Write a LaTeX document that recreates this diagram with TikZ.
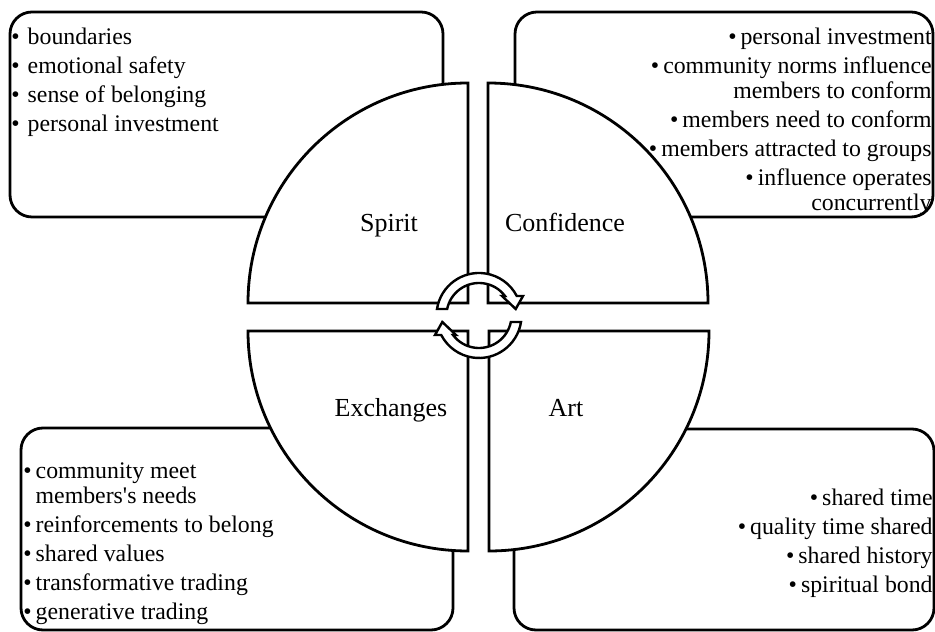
\documentclass[tikz,border=0pt]{standalone}
\usepackage{fontspec}
\setmainfont{Liberation Serif}
\tikzset{%
  panel/.style={draw=black,fill=white,line width=1.4pt,rounded corners=11pt},
  quarter/.style={draw=black,fill=white,line width=1.4pt},
  turn/.style={draw=black,fill=white,line width=1.2pt,line join=miter},
  qlabel/.style={inner sep=0,font=\fontsize{13}{15}\selectfont},
  plist/.style={inner sep=0,font=\fontsize{11.9}{12.5}\selectfont}
}
\newcommand{\itembul}{\textbullet\hspace{2pt}}

\begin{document}
\begin{tikzpicture}[x=0.5pt,y=0.5pt]
    \useasboundingbox (0,0) rectangle (935,631);
    % side panels
    \draw[panel] (10,414) rectangle (443,619);
    \draw[panel] (515,414) rectangle (933,619);
    \draw[panel] (21,1) rectangle (453,203);
    \draw[panel] (514,1) rectangle (934,202);
    % four quarter discs
    \draw[quarter] (468,328) -- (248,328) arc[start angle=180,end angle=90,radius=220] -- cycle;
    \draw[quarter] (488,328) -- (708,328) arc[start angle=0,end angle=90,radius=220] -- cycle;
    \draw[quarter] (468,300) -- (248,300) arc[start angle=180,end angle=270,radius=220] -- cycle;
    \draw[quarter] (489,300) -- (709,300) arc[start angle=0,end angle=-90,radius=220] -- cycle;
    % turning arrows in the middle
    \foreach \r in {0,180}{
      \begin{scope}[shift={(479,315.5)},rotate=\r]
        \draw[turn] (171.2:42.5) arc[start angle=171.2,end angle=27.3,radius=42.5]
          -- (44,19.5) -- (36.7,6.5) -- (23,19.5)
          -- (36.9:32.5) arc[start angle=36.9,end angle=168.5,radius=32.5] -- cycle;
      \end{scope}
    }
    \node (spirit)[qlabel,anchor=base] at (389,399) {Spirit};
    \node (confid)[qlabel,anchor=base] at (565,399) {Confidence};
    \node (exch)[qlabel,anchor=base] at (391,214) {Exchanges};
    \node (art)[qlabel,anchor=base] at (566,214) {Art};
    % lists
    \node (spiritlist)[plist,anchor=north west,align=left] at (11,603)
      {\textbullet\hspace{4pt}boundaries\\[2pt]
       \textbullet\hspace{4pt}emotional safety\\[2pt]
       \textbullet\hspace{4pt}sense of belonging\\[2pt]
       \textbullet\hspace{4pt}personal investment};
    \node (confidlist)[plist,anchor=north east,align=right] at (932,603)
      {\itembul personal investment\\[2pt]
       \itembul community norms influence\\
       members to conform\\[2pt]
       \itembul members need to conform\\[2pt]
       \itembul members attracted to groups\\[2pt]
       \itembul influence operates\\
       concurrently};
    \node (exchlist)[plist,anchor=north west,align=left] at (23,169)
      {\itembul community meet\\
       \phantom{\itembul}members\textquotesingle s needs\\[2pt]
       \itembul reinforcements to belong\\[2pt]
       \itembul shared values\\[2pt]
       \itembul transformative trading\\[2pt]
       \itembul generative trading};
    \node (artlist)[plist,anchor=north east,align=right] at (933,142)
      {\itembul shared time\\[2pt]
       \itembul quality time shared\\[2pt]
       \itembul shared history\\[2pt]
       \itembul spiritual bond};
\end{tikzpicture}
\end{document}
